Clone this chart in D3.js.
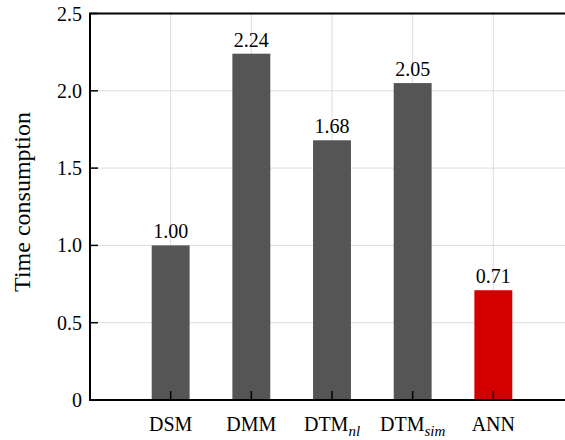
<!DOCTYPE html>
<html><head><meta charset="utf-8">
<script src="https://cdn.jsdelivr.net/npm/d3@7"></script>
<style>body{margin:0;background:#fff}svg{display:block}
svg text{font-family:"Liberation Serif","DejaVu Serif","Times New Roman",serif;}</style>
</head><body>
<script>
const categories = ["DSM","DMM","DTM_nl","DTM_sim","ANN"];
const labelMain = ["DSM","DMM","DTM","DTM","ANN"];
const labelSub = ["","","nl","sim",""];
const values = [1.00, 2.24, 1.68, 2.05, 0.71];
const colors = ["#555555","#555555","#555555","#555555","#d40000"];
const yTicks = [0, 0.5, 1.0, 1.5, 2.0, 2.5];
const yTickLabels = ["0","0.5","1.0","1.5","2.0","2.5"];

const W = 565, H = 440;
const mLeft = 90, mRight = 574, mTop = 13.5, mBottom = 400;
const svg = d3.select("body").append("svg").attr("width", W).attr("height", H);
const x = d3.scaleLinear().domain([0, 6]).range([mLeft, mRight]);
const y = d3.scaleLinear().domain([0, 2.5]).range([mBottom, mTop]);

// grid
svg.append("g").selectAll("line").data(yTicks.slice(1, -1)).join("line")
  .attr("x1", mLeft).attr("x2", mRight).attr("y1", d => y(d)).attr("y2", d => y(d))
  .attr("stroke", "#dcdcdc").attr("stroke-width", 1);
svg.append("g").selectAll("line").data(categories).join("line")
  .attr("x1", (d, i) => x(i + 1)).attr("x2", (d, i) => x(i + 1))
  .attr("y1", mTop).attr("y2", mBottom)
  .attr("stroke", "#dcdcdc").attr("stroke-width", 1);

// bars
const bw = x(0.47) - x(0);
svg.append("g").selectAll("rect").data(values).join("rect")
  .attr("x", (d, i) => x(i + 1) - bw / 2).attr("width", bw)
  .attr("y", d => y(d)).attr("height", d => y(0) - y(d))
  .attr("fill", (d, i) => colors[i]);

// value labels
svg.append("g").selectAll("text").data(values).join("text")
  .attr("x", (d, i) => x(i + 1)).attr("y", d => y(d) - 7)
  .attr("text-anchor", "middle").attr("font-size", 20)
  .attr("fill", "#000").text(d => d.toFixed(2));

// ticks inward
svg.append("g").selectAll("line").data(yTicks).join("line")
  .attr("x1", mLeft).attr("x2", mLeft + 8).attr("y1", d => y(d)).attr("y2", d => y(d))
  .attr("stroke", "#000").attr("stroke-width", 1.5);
svg.append("g").selectAll("line").data(yTicks).join("line")
  .attr("x1", mRight).attr("x2", mRight - 8).attr("y1", d => y(d)).attr("y2", d => y(d))
  .attr("stroke", "#000").attr("stroke-width", 1.5);
svg.append("g").selectAll("line").data(categories).join("line")
  .attr("x1", (d, i) => x(i + 1)).attr("x2", (d, i) => x(i + 1))
  .attr("y1", mBottom).attr("y2", mBottom - 9)
  .attr("stroke", "#000").attr("stroke-width", 1.5);

// frame
svg.append("rect").attr("x", mLeft).attr("y", mTop).attr("width", mRight - mLeft).attr("height", mBottom - mTop)
  .attr("fill", "none").attr("stroke", "#000").attr("stroke-width", 2);

// y tick labels
svg.append("g").selectAll("text").data(yTicks).join("text")
  .attr("x", mLeft - 8).attr("y", d => y(d)).attr("dy", "0.35em")
  .attr("text-anchor", "end").attr("font-size", 20)
  .text((d, i) => yTickLabels[i]);

// x labels
const xl = svg.append("g").selectAll("text").data(categories).join("text")
  .attr("x", (d, i) => x(i + 1)).attr("y", 431)
  .attr("text-anchor", "middle").attr("font-size", 20);
xl.each(function(d, i) {
  const t = d3.select(this);
  t.append("tspan").text(labelMain[i]);
  if (labelSub[i]) {
    t.append("tspan").attr("font-size", 15).attr("font-style", "italic").attr("dy", 5).text(labelSub[i]);
  }
});

// y label
svg.append("text").attr("transform", `translate(30,${202}) rotate(-90)`)
  .attr("text-anchor", "middle").attr("font-size", 24)
  .text("Time consumption");
</script>
</body></html>
